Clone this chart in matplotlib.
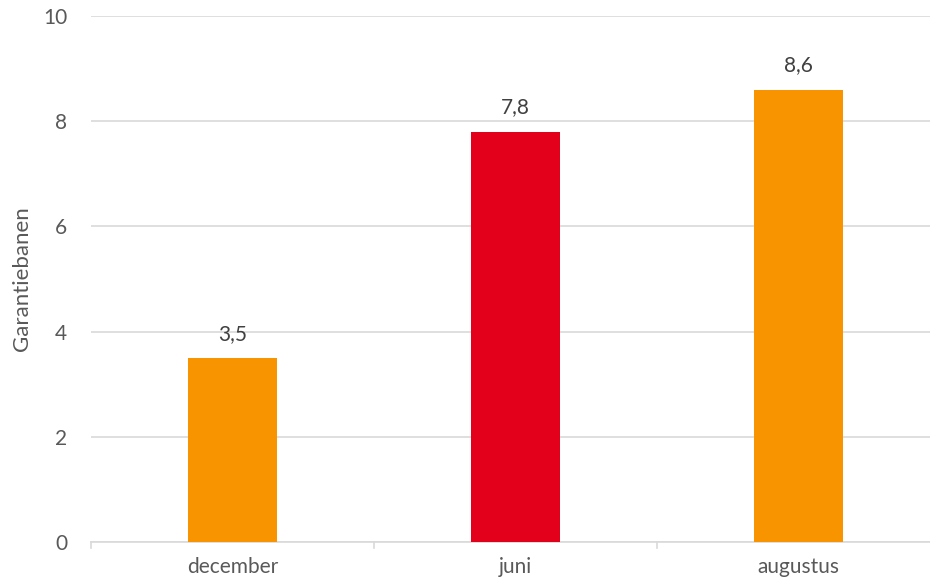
import matplotlib
matplotlib.use("Agg")
import matplotlib.pyplot as plt

months = ["december", "juni", "augustus"]
values = [3.5, 7.8, 8.6]
colors = ["#F79400", "#E2001A", "#F79400"]

W, H = 930, 585
fig = plt.figure(figsize=(W / 100, H / 100), dpi=100)
plt.rcParams["font.family"] = ["Lato", "DejaVu Sans"]

# plot area in pixels: x 91..940 (runs past the image edge), y 16..542
ax = fig.add_axes([91 / W, (H - 542) / H, (940 - 91) / W, (542 - 16) / H])
x = range(len(months))
ax.bar(x, values, width=0.315, color=colors, zorder=3)
for xi, v in zip(x, values):
    ax.text(xi, v + 0.27, f"{v:.1f}".replace(".", ","), ha="center", va="bottom",
            fontsize=15, color="#404040")

ax.set_xlim(-0.5, len(months) - 0.5)
ax.set_ylim(0, 10)
ax.set_yticks(range(0, 11, 2))
ax.set_xticks(list(x))
ax.set_xticklabels(months)
ax.grid(axis="y", color="#D9D9D9", lw=1.2, zorder=0)
for s in ["top", "right", "left"]:
    ax.spines[s].set_visible(False)
ax.spines["bottom"].set_color("#D9D9D9")
ax.spines["bottom"].set_linewidth(1.2)
ax.tick_params(axis="y", length=0, pad=17, labelsize=15, labelcolor="#595959")
ax.tick_params(axis="x", length=0, pad=11, labelsize=15, labelcolor="#595959")
# category separator ticks
for b in [-0.5, 0.5, 1.5, 2.5]:
    ax.plot([b, b], [0, -0.12], color="#D9D9D9", lw=1.2, clip_on=False)
ax.set_ylabel("Garantiebanen", fontsize=16, color="#595959", labelpad=8)

fig.savefig("out.png", dpi=100)
